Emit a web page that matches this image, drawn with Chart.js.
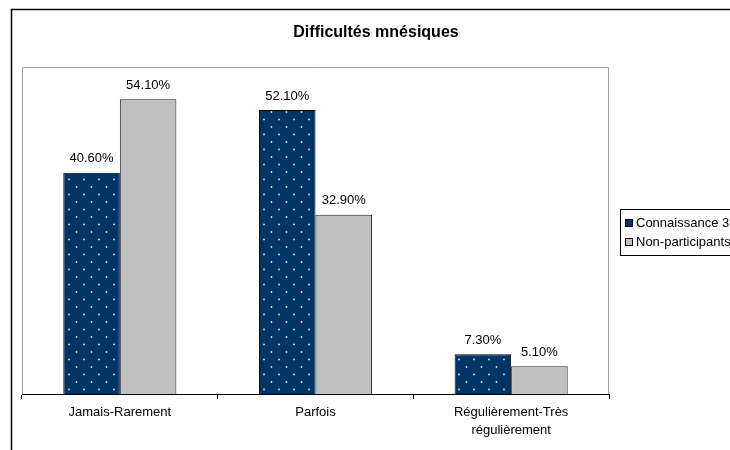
<!DOCTYPE html>
<html lang="fr">
<head>
<meta charset="utf-8">
<title>Difficultés mnésiques</title>
<script src="https://cdn.jsdelivr.net/npm/chart.js@4/dist/chart.umd.min.js"></script>
<style>
  html, body { margin: 0; padding: 0; background: #fff; }
  #wrap { width: 730px; height: 450px; }
</style>
</head>
<body>
<div id="wrap"><canvas id="chart" width="730" height="450"></canvas></div>
<script>
// Categories and series (percentages)
const categories = ['Jamais-Rarement', 'Parfois', ['Régulièrement-Très', 'régulièrement']];
const seriesNames = ['Connaissance 3', 'Non-participants'];
const connaissance = [40.6, 52.1, 7.3];
const nonParticipants = [54.1, 32.9, 5.1];
const chartTitle = 'Difficultés mnésiques';

const FONT = '"Liberation Sans", Arial, sans-serif';
const NAVY = '#003366';
const GREY = '#c0c0c0';

// Navy fill with a staggered grid of small light dots
function dottedPattern() {
  const c = document.createElement('canvas');
  c.width = 15; c.height = 15;
  const g = c.getContext('2d');
  g.fillStyle = NAVY;
  g.fillRect(0, 0, 15, 15);
  g.fillStyle = 'rgba(225,235,245,0.95)';
  g.beginPath(); g.arc(1.5, 7, 0.9, 0, Math.PI * 2); g.fill();
  g.beginPath(); g.arc(9, 14.5, 0.9, 0, Math.PI * 2); g.fill();
  g.beginPath(); g.arc(9, -0.5, 0.9, 0, Math.PI * 2); g.fill();
  return g.createPattern(c, 'repeat');
}

// Frame, title, plot-area outline, value labels and legend
const decorations = {
  id: 'decorations',
  beforeDatasetsDraw(chart) {
    const ctx = chart.ctx, a = chart.chartArea;
    ctx.save();
    // outer frame
    ctx.strokeStyle = '#000';
    ctx.lineWidth = 1.5;
    ctx.beginPath();
    ctx.moveTo(11.5, 460); ctx.lineTo(11.5, 9.5); ctx.lineTo(740, 9.5);
    ctx.stroke();
    // title
    ctx.fillStyle = '#000';
    ctx.font = 'bold 16px ' + FONT;
    ctx.textAlign = 'center';
    ctx.textBaseline = 'middle';
    ctx.fillText(chartTitle, 376, 33);
    // plot area outline (top, left, right)
    ctx.strokeStyle = '#a0a0a0';
    ctx.lineWidth = 1;
    ctx.beginPath();
    ctx.moveTo(a.left + 0.5, a.bottom); ctx.lineTo(a.left + 0.5, a.top + 0.5);
    ctx.lineTo(a.right - 0.5, a.top + 0.5); ctx.lineTo(a.right - 0.5, a.bottom);
    ctx.stroke();
    ctx.restore();
  },
  afterDatasetsDraw(chart) {
    const ctx = chart.ctx;
    ctx.save();
    ctx.fillStyle = '#000';
    ctx.font = '13px ' + FONT;
    ctx.textAlign = 'center';
    ctx.textBaseline = 'middle';
    chart.data.datasets.forEach((ds, i) => {
      chart.getDatasetMeta(i).data.forEach((bar, j) => {
        ctx.fillText(ds.data[j].toFixed(2) + '%', bar.x, bar.y - 14);
      });
    });
    // legend
    const lx = 620.5, ly = 209.5, lh = 46;
    ctx.strokeStyle = '#000';
    ctx.lineWidth = 1;
    ctx.strokeRect(lx, ly, 200, lh);
    ctx.textAlign = 'left';
    chart.data.datasets.forEach((ds, i) => {
      const cy = 223 + i * 19;
      ctx.fillStyle = i === 0 ? NAVY : GREY;
      ctx.fillRect(626, cy - 3, 6, 6);
      ctx.strokeStyle = '#000';
      ctx.strokeRect(625.5, cy - 3.5, 7, 7);
      ctx.fillStyle = '#000';
      ctx.fillText(ds.label, 636, cy);
    });
    ctx.restore();
  }
};

new Chart(document.getElementById('chart'), {
  type: 'bar',
  data: {
    labels: categories,
    datasets: [
      { label: seriesNames[0], data: connaissance, backgroundColor: dottedPattern(),
        borderColor: '#000', borderWidth: 1, borderSkipped: 'bottom' },
      { label: seriesNames[1], data: nonParticipants, backgroundColor: GREY,
        borderColor: '#222', borderWidth: 1, borderSkipped: 'bottom' }
    ]
  },
  options: {
    responsive: false,
    maintainAspectRatio: false,
    devicePixelRatio: 1,
    animation: false,
    layout: { padding: { left: 22, top: 67, right: 121, bottom: 0 } },
    plugins: { legend: { display: false }, title: { display: false }, tooltip: { enabled: false } },
    datasets: { bar: { barPercentage: 1, categoryPercentage: 0.578 } },
    scales: {
      x: {
        grid: { offset: true, drawOnChartArea: false, drawTicks: true, tickLength: 5, color: '#000' },
        border: { color: '#000', width: 1 },
        ticks: { color: '#000', font: { family: FONT, size: 13, lineHeight: 1.4 }, padding: 4,
                 maxRotation: 0, autoSkip: false },
        afterFit(scale) { scale.height = 56; }
      },
      y: { display: false, min: 0, max: 60 }
    }
  },
  plugins: [decorations]
});
</script>
</body>
</html>
